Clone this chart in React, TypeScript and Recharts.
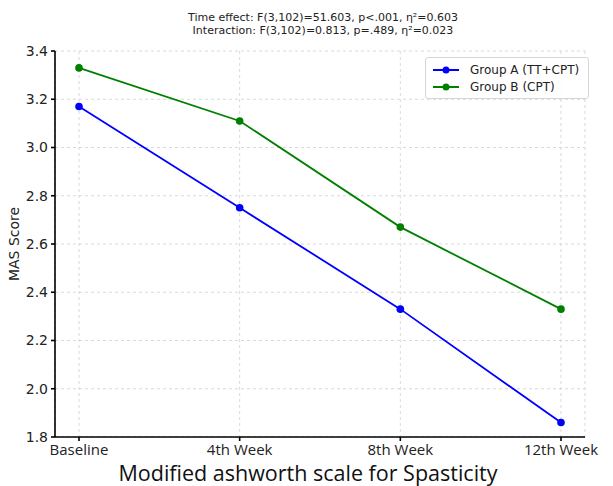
import React from 'react';
import {
  LineChart,
  Line,
  XAxis,
  YAxis,
  CartesianGrid
} from 'recharts';

const timepoints = ['Baseline', '4th Week', '8th Week', '12th Week'];
const groupA = [3.17, 2.75, 2.33, 1.86];
const groupB = [3.33, 3.11, 2.67, 2.33];
const yTicks = [1.8, 2.0, 2.2, 2.4, 2.6, 2.8, 3.0, 3.2, 3.4];

const seriesNames = ['Group A (TT+CPT)', 'Group B (CPT)'];
const seriesColors = ['#0000ff', '#008000'];

const titleLines = [
  'Time effect: F(3,102)=51.603, p<.001, η²=0.603',
  'Interaction: F(3,102)=0.813, p=.489, η²=0.023'
];

const data = timepoints.map((t, i) => ({
  time: t,
  groupA: groupA[i],
  groupB: groupB[i]
}));

const FONT = '"DejaVu Sans", sans-serif';

const YLabel = ({ viewBox }: any) => {
  const cx = 14;
  const cy = viewBox.y + viewBox.height / 2;
  return (
    <text
      x={cx}
      y={cy}
      transform={`rotate(-90 ${cx} ${cy})`}
      textAnchor="middle"
      dominantBaseline="central"
      fontFamily={FONT}
      fontSize={14}
      fill="#222"
    >
      MAS Score
    </text>
  );
};

const XLabel = () => (
  <text
    x={308}
    y={472}
    textAnchor="middle"
    dominantBaseline="central"
    fontFamily='"Open Sans", sans-serif'
    fontSize={21.5}
    fill="#111"
  >
    Modified ashworth scale for Spasticity
  </text>
);

const LegendBox = () => (
  <div
    style={{
      position: 'absolute',
      left: 425,
      top: 57,
      border: '1px solid #d6d6d6',
      borderRadius: 3,
      background: 'rgba(255,255,255,0.9)',
      padding: '3px 9px 3px 7px',
      fontFamily: FONT,
      fontSize: 12,
      color: '#222',
      zIndex: 2
    }}
  >
    {seriesNames.map((name, i) => (
      <div key={name} style={{ display: 'flex', alignItems: 'center', height: 17 }}>
        <svg width={26} height={10} style={{ marginRight: 11 }}>
          <line x1={0} y1={5} x2={26} y2={5} stroke={seriesColors[i]} strokeWidth={2} />
          <circle cx={13} cy={5} r={3.5} fill={seriesColors[i]} />
        </svg>
        <span>{name}</span>
      </div>
    ))}
  </div>
);

export default function App() {
  return (
    <div style={{ position: 'absolute', left: 0, top: 0, width: 613, height: 486, background: '#fff' }}>
      <div
        style={{
          position: 'absolute',
          left: 0,
          width: 646,
          top: 11,
          textAlign: 'center',
          fontFamily: FONT,
          fontSize: 11,
          lineHeight: '13px',
          color: '#222',
          zIndex: 2
        }}
      >
        {titleLines.map((l) => (
          <div key={l}>{l}</div>
        ))}
      </div>
      <LegendBox />
      <LineChart
        width={613}
        height={486}
        data={data}
        margin={{ top: 51, right: 28, bottom: 0, left: 15 }}
      >
        <CartesianGrid stroke="#cfcfcf" strokeDasharray="3 3" strokeWidth={0.8} />
        <XAxis
          dataKey="time"
          height={49}
          padding={{ left: 24, right: 24 }}
          stroke="#000"
          strokeWidth={1.6}
          tickSize={4}
          tickMargin={3}
          tick={{ fill: '#222', fontSize: 15, fontFamily: '"Open Sans", sans-serif' }}
          interval={0}
          label={<XLabel />}
        />
        <YAxis
          width={40}
          domain={[1.8, 3.4]}
          ticks={yTicks}
          tickFormatter={(v: number) => v.toFixed(1)}
          stroke="#000"
          strokeWidth={1.6}
          tickSize={4}
          tickMargin={3}
          tick={{ fill: '#222', fontSize: 14, fontFamily: FONT }}
          label={<YLabel />}
        />
        <Line
          name={seriesNames[0]}
          dataKey="groupA"
          stroke={seriesColors[0]}
          strokeWidth={1.8}
          dot={{ r: 3.8, fill: seriesColors[0], stroke: seriesColors[0], strokeWidth: 0 }}
          isAnimationActive={false}
        />
        <Line
          name={seriesNames[1]}
          dataKey="groupB"
          stroke={seriesColors[1]}
          strokeWidth={1.8}
          dot={{ r: 3.8, fill: seriesColors[1], stroke: seriesColors[1], strokeWidth: 0 }}
          isAnimationActive={false}
        />
      </LineChart>
    </div>
  );
}
